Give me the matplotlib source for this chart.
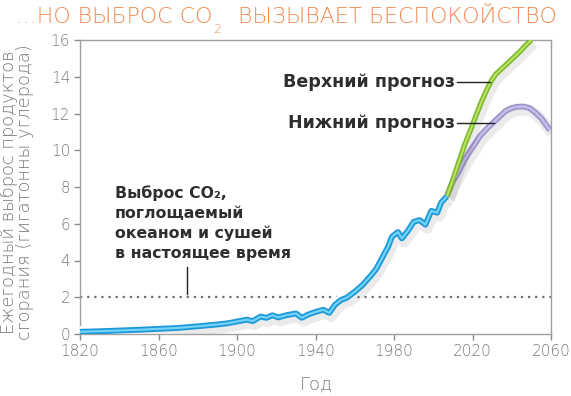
import matplotlib
matplotlib.use("Agg")
import matplotlib.pyplot as plt
import matplotlib.patheffects as pe

# ---- data ----
hist_years = [1820, 1830, 1840, 1850, 1860, 1870, 1880, 1890, 1895, 1900, 1905, 1908,
              1912, 1915, 1918, 1921, 1925, 1930, 1933, 1936, 1940, 1944, 1947, 1950,
              1953, 1956, 1960, 1964, 1968, 1971, 1974, 1977, 1979, 1982, 1984, 1987,
              1990, 1993, 1996, 1999, 2002, 2004, 2007]
hist_vals = [0.12, 0.15, 0.19, 0.23, 0.28, 0.33, 0.42, 0.52, 0.58, 0.68, 0.78, 0.70,
             0.95, 0.88, 1.02, 0.90, 1.02, 1.12, 0.88, 1.05, 1.20, 1.32, 1.15, 1.60,
             1.85, 1.98, 2.30, 2.67, 3.15, 3.55, 4.15, 4.75, 5.30, 5.55, 5.20, 5.60,
             6.10, 6.20, 5.95, 6.70, 6.60, 7.15, 7.50]
upper_years = [2007, 2010, 2013, 2016, 2019, 2022, 2025, 2028, 2030, 2032, 2035, 2038,
               2041, 2044, 2047, 2050]
upper_vals = [7.5, 8.4, 9.35, 10.3, 11.1, 11.95, 12.75, 13.45, 13.85, 14.15, 14.45, 14.75,
              15.05, 15.35, 15.7, 16.0]
lower_years = [2007, 2010, 2013, 2016, 2020, 2024, 2028, 2031, 2034, 2037, 2040, 2043,
               2046, 2049, 2052, 2055, 2058, 2059.5]
lower_vals = [7.5, 8.3, 8.85, 9.5, 10.15, 10.8, 11.25, 11.55, 11.85, 12.15, 12.3, 12.37,
              12.38, 12.3, 12.05, 11.75, 11.3, 11.1]
absorbed = 2.0
xticks = [1820, 1860, 1900, 1940, 1980, 2020, 2060]
yticks = [0, 2, 4, 6, 8, 10, 12, 14, 16]

title_a = "…НО ВЫБРОС CO"
title_sub = "2"
title_b = "ВЫЗЫВАЕТ БЕСПОКОЙСТВО"
ylabel = "Ежегодный выброс продуктов\nсгорания (гигатонны углерода)"
xlabel = "Год"
label_upper = "Верхний прогноз"
label_lower = "Нижний прогноз"
note_lines = ["Выброс CO₂,", "поглощаемый", "океаном и сушей", "в настоящее время"]

# ---- figure ----
W, H = 571, 396
fig = plt.figure(figsize=(W / 100, H / 100), dpi=100)
fig.patch.set_facecolor("white")
ax = fig.add_axes([80 / W, (H - 334) / H, 471 / W, 294 / H])
ax.set_xlim(1820, 2060)
ax.set_ylim(0, 16)

FONT = "DejaVu Sans"
gray_txt = "#7a7a7a"

for s in ax.spines.values():
    s.set_color("#a0a0a0")
    s.set_linewidth(1.0)
ax.tick_params(direction="out", length=4, width=1, color="#8a8a8a",
               labelsize=11, labelcolor=gray_txt, pad=3)
ax.set_xticks(xticks)
ax.set_yticks(yticks)
for lab in ax.get_xticklabels() + ax.get_yticklabels():
    lab.set_fontfamily(FONT)
    lab.set_fontweight("light")

# dotted absorbed line
ax.axhline(absorbed, color="#6e6e6e", linestyle=(0, (1, 2.2)), linewidth=1.6, zorder=2)

shadow = pe.SimpleLineShadow(offset=(1.5, -2.5), shadow_color="#000000", alpha=0.08, linewidth=8)

# projections
ax.plot(lower_years, lower_vals, color="#c6bde8", linewidth=1.8, zorder=3,
        solid_capstyle="butt", solid_joinstyle="round",
        path_effects=[shadow, pe.Stroke(linewidth=4.2, foreground="#9e92ca"), pe.Normal()])
ax.plot(upper_years, upper_vals, color="#bde362", linewidth=1.4, zorder=4,
        solid_capstyle="butt", solid_joinstyle="round",
        path_effects=[shadow, pe.Stroke(linewidth=3.8, foreground="#7db92f"), pe.Normal()])
# historical
ax.plot(hist_years, hist_vals, color="#72d3f6", linewidth=1.6, zorder=5,
        solid_capstyle="butt", solid_joinstyle="round",
        path_effects=[pe.Stroke(linewidth=8, foreground="white"), shadow,
                      pe.Stroke(linewidth=4.2, foreground="#1c98d8"), pe.Normal()])

txt_color = "#2e2e2e"
fig.canvas.draw()
r = fig.canvas.get_renderer()


def fit_width(t, target, vertical=False):
    bb = t.get_window_extent(r)
    cur = bb.height if vertical else bb.width
    t.set_fontsize(t.get_fontsize() * target / cur)


def px2fig(x, y):
    return x / W, 1 - y / H


# projection labels with leader lines
tu = fig.text(*px2fig(455, 82.3), label_upper, ha="right", va="center", fontsize=11.5,
              fontweight="bold", family=FONT, color=txt_color)
fit_width(tu, 173)
tl = fig.text(*px2fig(455, 123.3), label_lower, ha="right", va="center",
              fontsize=tu.get_fontsize(), fontweight="bold", family=FONT, color=txt_color)
ax.plot([2011.9, 2028.9], [13.7, 13.7], color="#222222", linewidth=1.0, zorder=6)
ax.plot([2011.9, 2030.8], [11.47, 11.47], color="#222222", linewidth=1.0, zorder=6)

# absorbed note
t4 = fig.text(*px2fig(115, 258), note_lines[3], ha="left", va="baseline", fontsize=11,
              fontweight="bold", family=FONT, color=txt_color)
fit_width(t4, 175)
fs_note = t4.get_fontsize()
for i, line in enumerate(note_lines[:3]):
    fig.text(*px2fig(115, 198 + 20 * i), line, ha="left", va="baseline", fontsize=fs_note,
             fontweight="bold", family=FONT, color=txt_color)
ax.plot([1874.5, 1874.5], [2.15, 3.65], color="#222222", linewidth=1.0, zorder=6)

# axis labels
fig.text(*px2fig(316, 385), xlabel, ha="center", va="center", fontsize=13,
         family=FONT, fontweight="light", color=gray_txt)
fig.text(*px2fig(17, 192), ylabel, ha="center", va="center", rotation=90,
         fontsize=12.9, family=FONT, fontweight="light", color=gray_txt,
         linespacing=0.82)

# title in pieces
orange = "#f28a4e"
ty = 17
t1 = fig.text(*px2fig(15, ty), title_a, ha="left", va="center", fontsize=17,
              family=FONT, fontweight="light", color=orange)
t3 = fig.text(0, 0, title_b, ha="left", va="center", fontsize=17,
              family=FONT, fontweight="light", color=orange)
w1 = t1.get_window_extent(r).width
w3 = t3.get_window_extent(r).width
gap = 26
scale = (557 - 15 - gap) / (w1 + w3)
t1.set_fontsize(17 * scale)
t3.set_fontsize(17 * scale)
bb1 = t1.get_window_extent(r)
fig.text(*px2fig(bb1.x1 + 1, ty + 12), title_sub, ha="left", va="center",
         fontsize=9, family=FONT, fontweight="light", color=orange)
t3.set_position(px2fig(bb1.x1 + gap, ty))

fig.savefig("out.png", dpi=100, facecolor="white")
